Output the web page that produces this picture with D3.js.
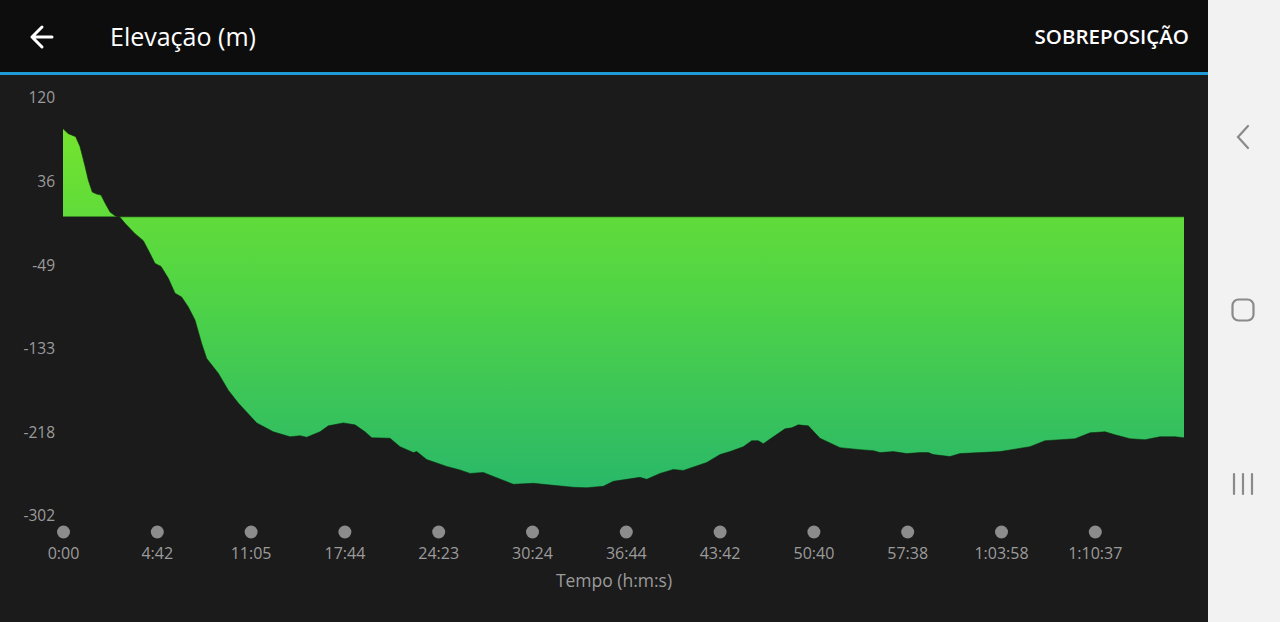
<!DOCTYPE html>
<html>
<head>
<meta charset="utf-8">
<script src="https://cdn.jsdelivr.net/npm/d3@7"></script>
<style>
  html, body { margin: 0; padding: 0; background: #1b1b1b; overflow: hidden; }
  svg { display: block; }
</style>
</head>
<body>
<svg id="chart" width="1280" height="622"></svg>
<script>
// ---- data ----
const tickLabels = ["0:00", "4:42", "11:05", "17:44", "24:23", "30:24", "36:44", "43:42", "50:40", "57:38", "1:03:58", "1:10:37"];
const yTickValues = [120, 35.6, -48.8, -133.2, -217.6, -302];
const yTickLabels = ["120", "36", "-49", "-133", "-218", "-302"];
// position along the track, in units of x-axis tick intervals
const position = [0, 0.057, 0.135, 0.181, 0.235, 0.270, 0.312, 0.359, 0.405, 0.448, 0.501, 0.554, 0.608, 0.661, 0.768, 0.856, 0.928, 0.981, 1.045, 1.123, 1.194, 1.265, 1.336, 1.407, 1.479, 1.532, 1.656, 1.762, 1.869, 2.065, 2.242, 2.420, 2.527, 2.598, 2.740, 2.828, 2.988, 3.113, 3.220, 3.291, 3.486, 3.593, 3.735, 3.771, 3.877, 4.091, 4.232, 4.339, 4.481, 4.588, 4.801, 5.014, 5.227, 5.440, 5.583, 5.760, 5.867, 6.151, 6.223, 6.365, 6.507, 6.613, 6.863, 7.004, 7.111, 7.253, 7.342, 7.413, 7.466, 7.573, 7.697, 7.769, 7.839, 7.946, 8.070, 8.284, 8.497, 8.639, 8.710, 8.852, 8.995, 9.137, 9.225, 9.279, 9.456, 9.563, 9.989, 10.309, 10.469, 10.789, 10.949, 11.109, 11.215, 11.375, 11.535, 11.695, 11.855, 11.951];
const elevation = [89, 84, 81, 71, 51, 37, 25, 23, 22, 14, 5, 1, -0.4, -6.5, -17, -24, -37, -47, -50, -62, -77, -81, -91, -104, -128, -143, -158, -175, -188, -208, -217, -222, -221, -222.5, -217, -211, -208, -210, -217, -223, -223.5, -232, -238, -237, -245, -252, -255.5, -259, -258, -262, -270, -269, -271, -273, -273.5, -272, -267, -263, -265, -259, -255, -256, -248, -240, -237, -232, -226, -226, -229, -222, -214, -213, -210, -211, -223.5, -233, -235, -236, -238, -237, -239, -238, -238, -240, -242, -239, -237, -232, -226, -224, -218, -217, -220, -224, -225, -222, -222, -223];

const data = position.map((p, i) => ({ p, v: elevation[i] }));

// ---- layout ----
const W = 1280, H = 622;
const svg = d3.select("#chart");
const font = "'Open Sans', 'Noto Sans', sans-serif";

// backgrounds
svg.append("rect").attr("x", 0).attr("y", 0).attr("width", W).attr("height", H).attr("fill", "#1b1b1b");
svg.append("rect").attr("x", 0).attr("y", 0).attr("width", 1208).attr("height", 73).attr("fill", "#0d0d0d");
svg.append("rect").attr("x", 0).attr("y", 72).attr("width", 1208).attr("height", 3).attr("fill", "#1f9ad6");

// right navigation bar
svg.append("rect").attr("x", 1208).attr("y", 0).attr("width", 72).attr("height", H).attr("fill", "#f2f2f2");
const nav = svg.append("g").attr("stroke", "#8a8a8a").attr("fill", "none").attr("stroke-width", 2.2).attr("stroke-linecap", "round");
nav.append("path").attr("d", "M1248,126 L1238,137 L1248,148");
nav.append("rect").attr("x", 1232.5).attr("y", 299.5).attr("width", 21).attr("height", 21).attr("rx", 6);
nav.append("path").attr("d", "M1234,474 V494 M1243,474 V494 M1252,474 V494");

// header
svg.append("path").attr("d", "M52,37 H32 M42,27 L32,37 L42,47")
  .attr("stroke", "#ffffff").attr("stroke-width", 3).attr("fill", "none").attr("stroke-linecap", "round").attr("stroke-linejoin", "round");
svg.append("text").attr("x", 110).attr("y", 46).text("Elevação (m)")
  .attr("fill", "#ffffff").attr("font-family", font).attr("font-size", 25);
svg.append("text").attr("x", 1189).attr("y", 44).attr("text-anchor", "end").text("SOBREPOSIÇÃO")
  .attr("fill", "#ffffff").attr("font-family", font).attr("font-size", 20.5).attr("font-weight", 600);

// scales
const x = d3.scaleLinear().domain([0, tickLabels.length - 1]).range([63, 63 + 93.8 * (tickLabels.length - 1)]);
const y = d3.scaleLinear().domain([-302, 120]).range([516, 98]);

// gradient
const defs = svg.append("defs");
const grad = defs.append("linearGradient").attr("id", "g").attr("gradientUnits", "userSpaceOnUse")
  .attr("x1", 0).attr("x2", 0).attr("y1", y(120)).attr("y2", y(-302));
grad.append("stop").attr("offset", "0%").attr("stop-color", "#7ae62a");
grad.append("stop").attr("offset", "45%").attr("stop-color", "#52d544");
grad.append("stop").attr("offset", "100%").attr("stop-color", "#24b46e");

// area
const area = d3.area().x(d => x(d.p)).y0(y(0)).y1(d => y(d.v)).curve(d3.curveLinear);
svg.append("path").datum(data).attr("d", area).attr("fill", "url(#g)");
const line = d3.line().x(d => x(d.p)).y(d => y(d.v));
svg.append("path").datum(data).attr("d", line).attr("fill", "none").attr("stroke", "rgba(10,40,10,0.55)").attr("stroke-width", 1);
svg.append("line").attr("x1", x(0)).attr("x2", x(data[data.length - 1].p)).attr("y1", y(0)).attr("y2", y(0))
  .attr("stroke", "rgba(10,40,10,0.45)").attr("stroke-width", 1);

// y axis labels
const yAxis = d3.axisLeft(y).tickValues(yTickValues).tickSize(0).tickPadding(0)
  .tickFormat((d, i) => yTickLabels[i]);
const gy = svg.append("g").attr("transform", "translate(55,0)").call(yAxis);
gy.select(".domain").remove();
gy.selectAll("text").attr("fill", "#9b9b9b").attr("font-family", font).attr("font-size", 15.5);

// x axis: dots + labels
const xAxis = d3.axisBottom(x).tickValues(d3.range(tickLabels.length)).tickSize(0).tickPadding(0)
  .tickFormat((d, i) => tickLabels[i]);
const gx = svg.append("g").attr("transform", "translate(0,548)").call(xAxis);
gx.select(".domain").remove();
gx.selectAll("text").attr("fill", "#9b9b9b").attr("font-family", font).attr("font-size", 16).attr("dy", "0.71em");
gx.selectAll(".tick").append("circle").attr("cx", 0).attr("cy", -16).attr("r", 6.5).attr("fill", "#8c8c8c");

svg.append("text").attr("x", 614).attr("y", 587).attr("text-anchor", "middle").text("Tempo (h:m:s)")
  .attr("fill", "#9b9b9b").attr("font-family", font).attr("font-size", 17.5).attr("font-weight", 500);
</script>
</body>
</html>
